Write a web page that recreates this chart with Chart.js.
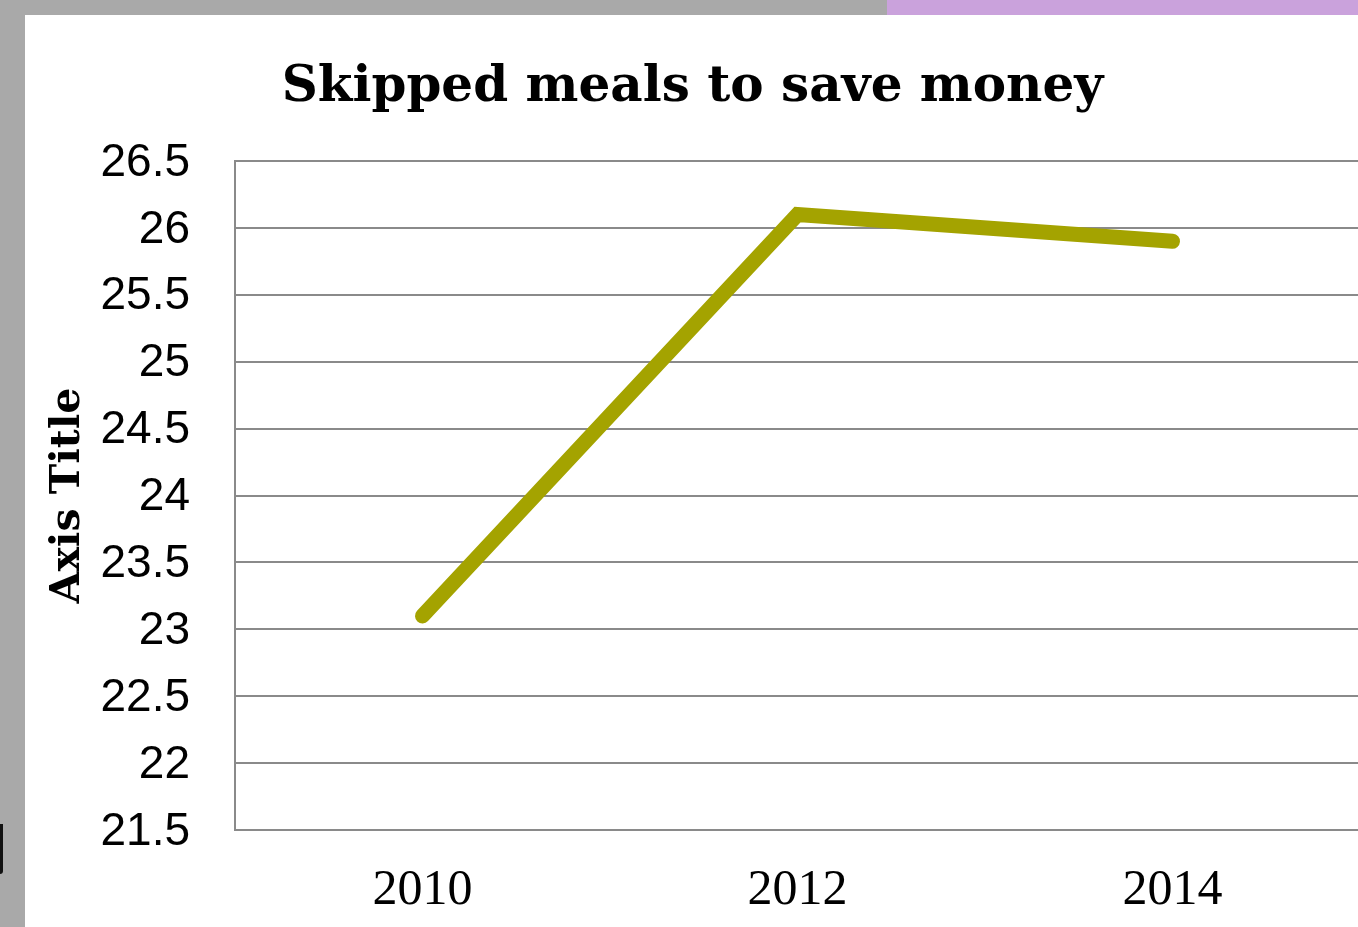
<!DOCTYPE html>
<html>
<head>
<meta charset="utf-8">
<script src="https://cdn.jsdelivr.net/npm/chart.js@4"></script>
<style>
  html, body { margin:0; padding:0; width:1358px; height:927px; overflow:hidden; background:#ffffff; }
  #grayTop { position:absolute; left:0; top:0; width:887px; height:15px; background:#a9a9a9; }
  #purpleTop { position:absolute; left:887px; top:0; width:471px; height:15px; background:#caa2dc; }
  #grayLeft { position:absolute; left:0; top:0; width:25px; height:927px; background:#a9a9a9; }
  #frag { position:absolute; left:0; top:824px; width:3px; height:50px; background:#111; border-bottom-right-radius:3px; }
  #wrap { position:absolute; left:25px; top:15px; width:1345px; height:912px; }
</style>
</head>
<body>
<div id="grayTop"></div><div id="purpleTop"></div><div id="grayLeft"></div><div id="frag"></div>
<div id="wrap"><canvas id="c" width="1345" height="912"></canvas></div>
<script>
const categories = ['2010', '2012', '2014'];
const seriesValues = [23.1, 26.1, 25.9];
const yTickMin = 21.5;
const yTickMax = 26.5;
const yTickStep = 0.5;
const chartTitle = 'Skipped meals to save money';
const yAxisTitle = 'Axis Title';

new Chart(document.getElementById('c'), {
  type: 'line',
  data: {
    labels: categories,
    datasets: [{
      label: 'Skipped meals',
      data: seriesValues,
      borderColor: '#a4a300',
      backgroundColor: '#a4a300',
      borderWidth: 15,
      borderCapStyle: 'round',
      borderJoinStyle: 'miter',
      pointRadius: 0,
      pointHoverRadius: 0,
      tension: 0,
      fill: false
    }]
  },
  options: {
    responsive: false,
    animation: false,
    layout: { padding: { left: 0, right: 10, top: 0, bottom: 0 } },
    plugins: {
      legend: { display: false },
      tooltip: { enabled: false },
      title: {
        display: true,
        text: chartTitle,
        color: '#000',
        font: { family: 'DejaVu Serif', weight: 'bold', size: 50, lineHeight: 1.2 },
        padding: { top: 43, bottom: 43 }
      }
    },
    scales: {
      x: {
        offset: true,
        grid: { display: true, color: 'rgba(0,0,0,0)', drawTicks: false },
        border: { display: true, color: '#8a8a8a', width: 2 },
        ticks: { color: '#000', padding: 31, font: { family: 'Liberation Serif', size: 50, lineHeight: 1.2 }, maxRotation: 0 },
        afterFit: (s) => { s.height = 97; }
      },
      y: {
        min: yTickMin,
        max: yTickMax,
        grid: { color: '#8a8a8a', lineWidth: 2, drawTicks: false },
        border: { display: true, color: '#8a8a8a', width: 2 },
        ticks: {
          stepSize: yTickStep,
          color: '#000',
          padding: 45,
          labelOffset: 2,
          font: { family: 'Liberation Sans', size: 46, lineHeight: 1.2 },
          callback: (v) => String(Math.round(v * 10) / 10)
        },
        title: {
          display: true,
          text: yAxisTitle,
          color: '#000',
          font: { family: 'DejaVu Serif', weight: 'bold', size: 41, lineHeight: 1.2 },
          padding: { top: 19, bottom: 0 }
        },
        afterFit: (s) => { s.width = 210; }
      }
    }
  }
});
</script>
</body>
</html>
